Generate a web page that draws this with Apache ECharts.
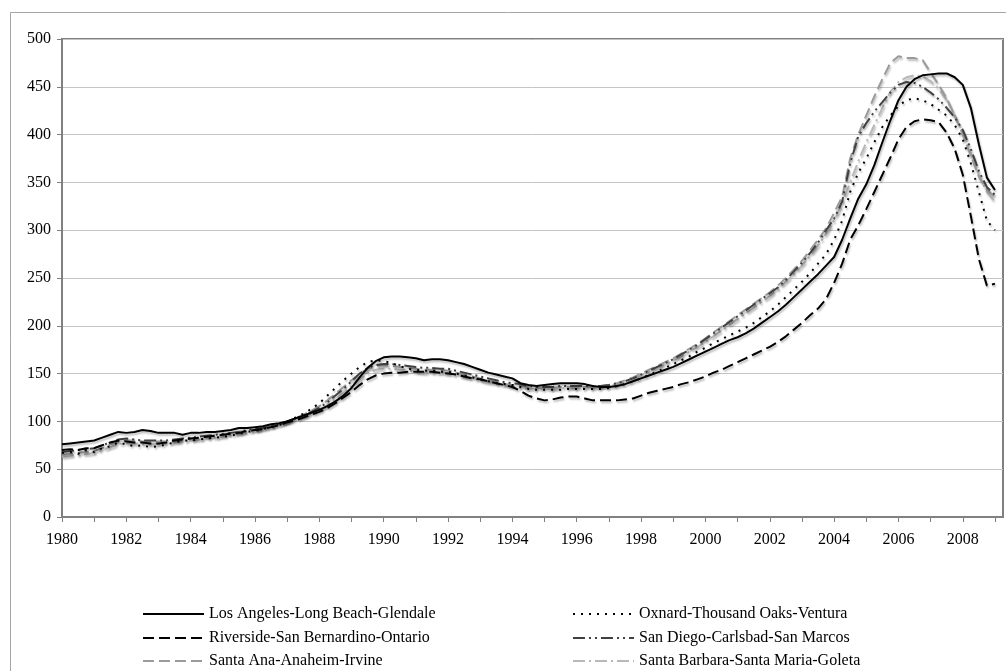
<!DOCTYPE html>
<html>
<head>
<meta charset="utf-8">
<script src="https://cdn.jsdelivr.net/npm/echarts@6/dist/echarts.min.js"></script>
<style>
html,body{margin:0;padding:0;background:#fff;}
#chart{width:1006px;height:671px;}
</style>
</head>
<body>
<div id="chart"></div>
<script>
// Quarterly categories 1980Q1 .. 2009Q2 (last one empty)
const firstYear = 1980;
const lastYear = 2009;
const categories = [];
for (let y = firstYear; y <= lastYear; y++) {
  for (let q = 1; q <= 4; q++) {
    if (y === lastYear && q > 2) break;
    categories.push(y + ' Q' + q);
  }
}

const seriesNames = [
  'Los Angeles-Long Beach-Glendale',
  'Oxnard-Thousand Oaks-Ventura',
  'Riverside-San Bernardino-Ontario',
  'San Diego-Carlsbad-San Marcos',
  'Santa Ana-Anaheim-Irvine',
  'Santa Barbara-Santa Maria-Goleta'
];

const losAngeles = [
  76,77,78,79, 80,83,86,89, 88,89,91,90, 88,88,88,86, 88,88,89,89,
  90,91,93,93, 94,95,97,98, 100,103,106,109, 112,116,121,127, 135,146,156,163,
  167,168,168,167, 166,164,165,165, 164,162,160,157, 154,151,149,147, 145,140,138,137,
  138,139,140,140, 140,139,137,136, 136,137,139,142, 145,148,151,154, 157,161,165,169,
  173,177,181,185, 188,192,197,203, 209,215,222,230, 238,246,254,263, 272,290,312,333,
  348,368,392,415, 436,450,458,462, 463,464,464,460, 452,428,390,355, 342, null
];
const oxnard = [
  67,68,66,70, 68,72,74,78, 76,74,75,73, 74,76,78,80, 80,81,82,83,
  84,85,87,89, 90,92,94,96, 100,104,108,113, 119,127,135,143, 150,157,162,164,
  163,161,158,155, 154,153,153,152, 152,150,148,146, 144,142,140,139, 138,136,134,133,
  133,133,133,134, 134,134,134,134, 135,137,139,142, 145,149,152,156, 160,164,168,173,
  177,182,186,190, 194,198,203,209, 215,222,230,238, 246,255,265,275, 290,310,340,360,
  375,392,408,420, 430,436,438,436, 432,426,420,410, 395,370,340,310, 300, null
];
const riverside = [
  70,71,70,72, 72,75,78,80, 79,78,78,77, 77,78,80,81, 82,83,84,85,
  86,87,88,90, 91,92,94,96, 99,101,104,107, 110,114,119,125, 131,138,144,148,
  150,151,151,152, 152,152,152,151, 150,149,147,145, 144,142,140,138, 136,132,127,124,
  122,123,125,126, 126,124,122,122, 122,122,123,124, 127,130,132,134, 136,139,141,144,
  147,151,154,158, 162,166,170,174, 178,183,189,196, 203,211,218,228, 245,265,290,305,
  322,340,358,376, 395,408,414,416, 415,413,402,385, 358,315,270,242, 244, null
];
const sanDiego = [
  68,69,70,71, 72,75,78,81, 82,81,80,80, 80,80,81,82, 83,84,85,86,
  87,88,89,91, 92,93,95,97, 100,103,106,110, 114,120,127,134, 142,150,156,159,
  160,160,159,158, 157,156,156,155, 155,153,151,149, 147,145,143,141, 140,139,137,136,
  136,136,137,137, 137,137,137,137, 138,140,142,145, 149,153,157,161, 165,170,175,180,
  186,192,198,204, 210,216,222,228, 234,240,248,257, 266,276,287,300, 312,330,370,398,
  412,424,434,444, 452,455,454,450, 444,437,428,418, 405,385,362,345, 337, null
];
const santaAna = [
  65,66,67,68, 69,72,76,79, 80,80,79,79, 79,79,80,81, 82,83,84,85,
  86,87,89,90, 91,93,95,97, 100,103,107,111, 116,122,129,136, 143,150,155,158,
  159,158,157,156, 155,154,154,154, 153,151,149,147, 145,143,141,139, 138,137,136,135,
  135,135,136,136, 136,136,136,137, 138,140,143,146, 150,154,158,162, 166,171,176,181,
  187,193,199,205, 211,217,223,229, 235,242,250,259, 268,279,290,302, 318,335,375,400,
  420,440,458,475, 482,480,480,478, 465,452,438,420, 400,378,356,342, 335, null
];
const santaBarbara = [
  63,64,65,66, 67,70,73,76, 77,77,76,76, 76,77,78,79, 80,81,82,83,
  84,86,87,89, 90,92,94,96, 99,102,105,108, 112,117,123,130, 137,144,150,154,
  155,155,154,153, 152,151,151,151, 150,149,147,145, 143,141,140,138, 137,135,134,134,
  134,134,135,135, 135,135,135,136, 137,139,141,144, 148,152,156,160, 164,168,173,178,
  183,189,195,201, 207,213,219,225, 231,238,246,254, 263,273,284,296, 310,328,350,372,
  392,410,428,445, 455,460,462,461, 456,448,436,420, 402,380,358,340, 330, null
];

const seriesData = [losAngeles, oxnard, riverside, sanDiego, santaAna, santaBarbara];
const seriesColors = ['#000000','#000000','#000000','#404040','#9a9a9a','#b8b8b8'];
const seriesDash = ['solid',[2,6],[11,5],[12,4,2,4,2,4],[11,5],[12,4,2,4]];

const FONT = '"Liberation Serif","Times New Roman",serif';

// legend placement: left column / right column, three rows
const legendCols = [142, 572];
const legendRows = [606, 630, 653];
const legendOrder = [
  [0, 0, 0], [1, 1, 0],
  [2, 0, 1], [3, 1, 1],
  [4, 0, 2], [5, 1, 2]
];

const chart = echarts.init(document.getElementById('chart'), null, {renderer:'canvas'});
chart.setOption({
  animation: false,
  backgroundColor: '#ffffff',
  graphic: [{
    type: 'rect', silent: true, z: -1,
    shape: {x: 10.5, y: 12.5, width: 1100, height: 700},
    style: {fill: 'none', stroke: '#a6a6a6', lineWidth: 1}
  }],
  grid: {
    left: 62, right: 3, top: 39, bottom: 154,
    show: true, borderColor: '#808080', borderWidth: 2, backgroundColor: 'transparent'
  },
  legend: legendOrder.map(([si, col, row]) => ({
    orient: 'horizontal', left: legendCols[col], top: legendRows[row], padding: 0,
    itemWidth: 61, itemHeight: 14,
    itemStyle: {opacity: 0},
    textStyle: {fontFamily: FONT, fontSize: 16, color: '#000'},
    data: [seriesNames[si]]
  })),
  xAxis: {
    type: 'category',
    data: categories,
    boundaryGap: false,
    axisLine: {show: true, lineStyle: {color: '#808080', width: 2}},
    axisTick: {show: true, interval: 3, length: 5, inside: false, lineStyle: {color: '#808080', width: 1}},
    axisLabel: {
      interval: 7, margin: 15, color: '#000',
      fontFamily: FONT, fontSize: 16,
      formatter: v => v.slice(0, 4)
    },
    splitLine: {show: false}
  },
  yAxis: {
    type: 'value', min: 0, max: 500, interval: 50,
    axisLine: {show: true, lineStyle: {color: '#808080', width: 2}},
    axisTick: {show: true, length: 5, lineStyle: {color: '#808080', width: 1}},
    axisLabel: {margin: 11, color: '#000', fontFamily: FONT, fontSize: 16},
    splitLine: {show: true, lineStyle: {color: '#c4c4c4', width: 1}}
  },
  series: seriesNames.map((name, i) => ({
    name: name,
    type: 'line',
    data: seriesData[i],
    symbol: 'none',
    showSymbol: false,
    connectNulls: false,
    itemStyle: {color: seriesColors[i]},
    lineStyle: {
      color: seriesColors[i], width: 2, type: seriesDash[i],
      shadowColor: 'rgba(0,0,0,0.28)', shadowBlur: 2, shadowOffsetX: 1, shadowOffsetY: 2
    },
    z: 10 - i
  }))
});
</script>
</body>
</html>
